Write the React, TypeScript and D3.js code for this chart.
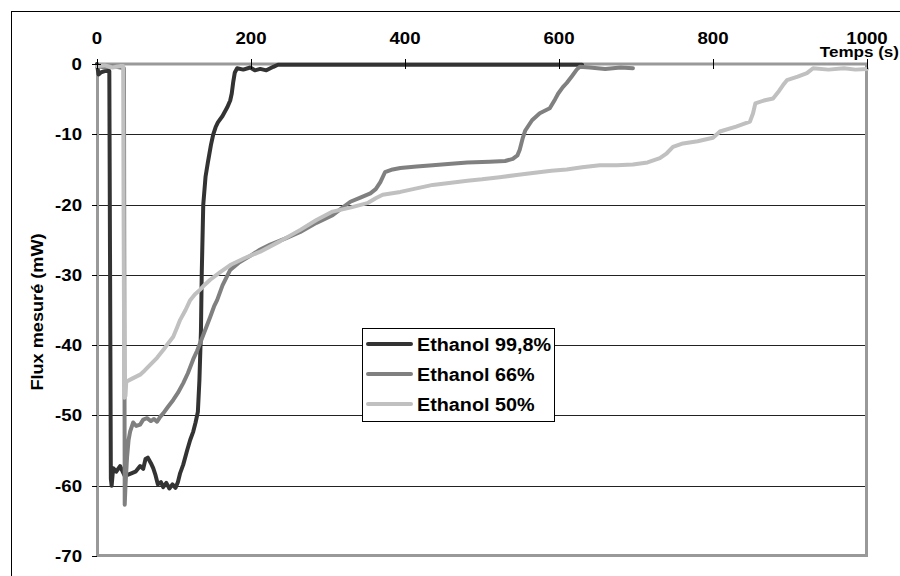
import React from "react";
import * as d3 from "d3";

const xTicks = [0, 200, 400, 600, 800, 1000];
const yTicks = [0, -10, -20, -30, -40, -50, -60, -70];
const seriesNames = ["Ethanol 99,8%", "Ethanol 66%", "Ethanol 50%"];
const seriesColors = ["#333333", "#808080", "#c0c0c0"];

const ethanol998: [number, number][] = [
  [0, 0], [2, -1.5], [5, -1.2], [10, -1], [16, -1], [17, -30], [18, -59], [19, -60], [21, -57.5],
  [25, -58], [30, -57.2], [36, -58.6], [43, -58.3], [50, -58], [56, -57.2], [60, -57.6], [63, -56.2],
  [66, -56], [70, -56.8], [73, -57.5], [76, -58.5], [79, -59.8], [83, -59.5], [86, -60.2], [90, -59.6],
  [94, -60.4], [98, -59.8], [102, -60.3], [105, -59.5], [108, -58.2], [112, -57], [117, -55],
  [121, -53.5], [125, -52.3], [128, -51], [131, -49.5], [133, -45], [135, -38], [136, -30], [138, -20],
  [141, -16], [144, -14], [148, -11.5], [151, -10], [154, -9], [157, -8.3], [163, -7.4], [169, -6.2],
  [173, -5.2], [175, -4.2], [177, -2.5], [179, -1.2], [182, -0.6], [190, -0.8], [199, -0.5], [205, -0.9],
  [212, -0.7], [220, -0.9], [229, -0.4], [235, -0.1], [630, -0.1],
];

const ethanol66: [number, number][] = [
  [0, -0.3], [10, -0.5], [20, -0.3], [30, -0.5], [35, -0.6], [35.5, -30], [36, -62.7], [37, -60],
  [39, -56], [41, -53.5], [43, -52.3], [47, -51], [51, -51.5], [56, -51.3], [60, -50.6], [65, -50.4],
  [70, -50.8], [74, -50.5], [78, -50.9], [82, -50.2], [86, -49.7], [92, -48.8], [99, -47.8], [105, -46.8],
  [112, -45.4], [118, -44], [125, -42], [130, -40.8], [134, -39.7], [140, -38], [147, -36], [152, -34.5],
  [156, -33.6], [163, -31.5], [173, -29.3], [185, -28.2], [199, -27.3], [212, -26.4], [225, -25.7],
  [245, -24.8], [264, -23.9], [285, -22.6], [306, -21.5], [318, -20.5], [329, -19.6], [342, -19],
  [355, -18.4], [362, -17.8], [368, -16.8], [374, -15.4], [384, -15], [394, -14.8], [415, -14.6],
  [436, -14.4], [460, -14.2], [481, -14], [510, -13.9], [530, -13.8], [540, -13.5], [546, -13],
  [549, -12.2], [553, -10.5], [556, -9.5], [565, -8], [575, -7], [588, -6.3], [595, -5], [599, -4.2],
  [605, -3.3], [610, -2.7], [617, -1.7], [623, -0.8], [627, -0.4], [640, -0.5], [660, -0.7], [680, -0.5],
  [696, -0.6],
];

const ethanol50: [number, number][] = [
  [0, -0.3], [10, -0.2], [20, -0.5], [30, -0.3], [34, -0.3], [34.5, -20], [35.5, -47.5], [37, -47.2],
  [38, -45.2], [45, -44.8], [56, -44.2], [62, -43.6], [69, -42.8], [78, -41.8], [86, -40.7], [92, -39.8],
  [99, -38.8], [104, -37.5], [108, -36.4], [115, -35], [121, -33.6], [127, -32.8], [134, -32.1],
  [140, -31.4], [147, -30.7], [160, -29.6], [173, -28.6], [192, -27.6], [212, -26.7], [238, -25.2],
  [264, -23.6], [285, -22.2], [306, -21], [330, -20.4], [351, -19.8], [362, -19.1], [371, -18.6],
  [394, -18.2], [415, -17.7], [436, -17.2], [460, -16.9], [481, -16.6], [500, -16.4], [523, -16.1],
  [545, -15.8], [566, -15.5], [590, -15.2], [610, -15], [630, -14.7], [653, -14.4], [675, -14.4],
  [696, -14.3], [715, -14], [731, -13.4], [740, -12.7], [748, -11.8], [761, -11.3], [780, -11],
  [800, -10.5], [809, -9.6], [830, -8.9], [848, -8.2], [852, -7], [855, -5.6], [866, -5.2], [878, -4.9],
  [886, -3.8], [891, -3], [896, -2.3], [910, -1.8], [922, -1.3], [930, -0.6], [950, -0.8], [970, -0.6],
  [985, -0.8], [1000, -0.7],
];

const allSeries = [ethanol998, ethanol66, ethanol50];

const W = 900;
const H = 576;
const left = 97;
const right = 867;
const top = 64;
const bottom = 556;
const FONT = "'Liberation Sans', Arial, sans-serif";

function SText(props: { x: number; y: number; size: number; sx?: number; anchor?: string; rotate?: number; children: React.ReactNode }) {
  const { x, y, size, sx = 1.13, anchor = "start", rotate = 0, children } = props;
  return (
    <text
      transform={`translate(${x},${y}) rotate(${rotate}) scale(${sx},1)`}
      textAnchor={anchor}
      fontFamily={FONT}
      fontWeight="bold"
      fontSize={size}
      fill="#000"
    >
      {children}
    </text>
  );
}

export default function App() {
  const x = d3.scaleLinear().domain([0, 1000]).range([left, right]);
  const y = d3.scaleLinear().domain([-70, 0]).range([bottom, top]);
  const line = d3
    .line<[number, number]>()
    .x((d) => x(d[0]))
    .y((d) => y(d[1]));

  return (
    <svg width={W} height={H} style={{ position: "absolute", left: 0, top: 0, background: "#fff" }}>
      <rect x={0} y={0} width={W} height={H} fill="#fff" />
      <rect x={11.5} y={11.5} width={W + 20} height={H + 20} fill="none" stroke="#000" strokeWidth={1} />
      {/* gridlines */}
      {yTicks.filter((t) => t !== 0 && t !== -70).map((t) => (
        <line key={t} x1={left} x2={right} y1={Math.round(y(t)) + 0.5} y2={Math.round(y(t)) + 0.5} stroke="#222" strokeWidth={1} />
      ))}
      {/* plot border */}
      <rect x={left + 0.5} y={top} width={right - left - 1} height={bottom - top - 0.5} fill="none" stroke="#999" strokeWidth={3} />
      {/* y ticks */}
      {yTicks.map((t) => (
        <line key={t} x1={left - 5} x2={left} y1={Math.round(y(t)) + 0.5} y2={Math.round(y(t)) + 0.5} stroke="#000" strokeWidth={1} />
      ))}
      {/* series */}
      {allSeries.map((s, i) => (
        <path key={i} d={line(s) || ""} fill="none" stroke={seriesColors[i]} strokeWidth={4} strokeLinejoin="round" strokeLinecap="round" />
      ))}
      {/* x axis ticks */}
      {xTicks.map((t) => (
        <line key={t} x1={Math.round(x(t)) + 0.5} x2={Math.round(x(t)) + 0.5} y1={top - 5} y2={top + 5} stroke="#000" strokeWidth={1} />
      ))}
      <line x1={left - 5} x2={left + 4} y1={top + 0.5} y2={top + 0.5} stroke="#000" strokeWidth={1} />
      {/* x tick labels */}
      {xTicks.map((t) => (
        <SText key={t} x={x(t)} y={44} size={16.5} anchor="middle">{String(t)}</SText>
      ))}
      {/* y tick labels */}
      {yTicks.map((t) => (
        <SText key={t} x={82} y={y(t) + 6} size={16.5} anchor="end">{String(t)}</SText>
      ))}
      <SText x={899} y={57} size={15.5} sx={1.1} anchor="end">Temps (s)</SText>
      <SText x={43} y={312} size={16.5} sx={1.1} anchor="middle" rotate={-90}>Flux mesuré (mW)</SText>
      {/* legend */}
      <rect x={362.5} y={328.5} width={192} height={93} fill="#fff" stroke="#000" strokeWidth={1} />
      {seriesNames.map((n, i) => {
        const ly = 344 + i * 30;
        return (
          <g key={n}>
            <line x1={368} x2={411} y1={ly} y2={ly} stroke={seriesColors[i]} strokeWidth={4} strokeLinecap="round" />
            <SText x={417} y={ly + 7} size={18.5} sx={1.07}>{n}</SText>
          </g>
        );
      })}
    </svg>
  );
}
